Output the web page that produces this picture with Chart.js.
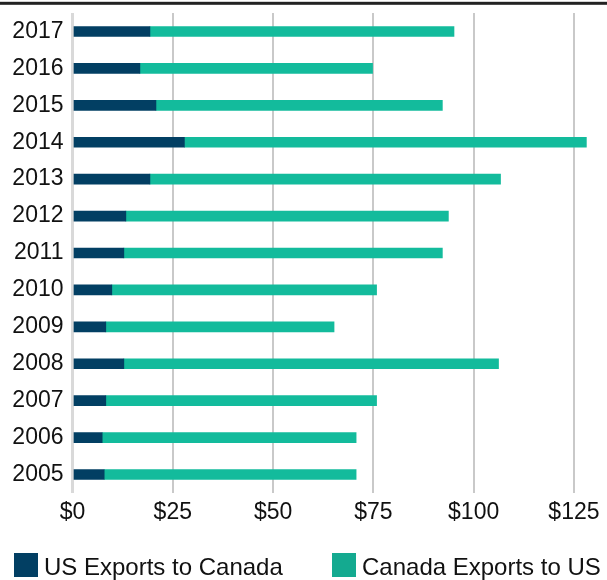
<!DOCTYPE html>
<html>
<head>
<meta charset="utf-8">
<script src="https://cdn.jsdelivr.net/npm/chart.js@4"></script>
<style>
  html, body { margin: 0; padding: 0; background: #ffffff; }
  #wrap { width: 607px; height: 580px; position: relative; }
</style>
</head>
<body>
<div id="wrap"><canvas id="c"></canvas></div>
<script>
// Categories (top to bottom as displayed)
const years = ['2017','2016','2015','2014','2013','2012','2011','2010','2009','2008','2007','2006','2005'];
// Series values (billions of dollars)
const usExportsToCanada = [19.3, 16.8, 20.8, 27.9, 19.3, 13.3, 12.8, 9.8, 8.3, 12.8, 8.3, 7.4, 7.9];
const canadaExportsToUS = [75.8, 58.0, 71.4, 100.2, 87.4, 80.4, 79.4, 66.0, 56.9, 93.4, 67.5, 63.3, 62.8];
// Axis
const xMin = 0, xMax = 130, xStep = 25;
const seriesNames = ['US Exports to Canada', 'Canada Exports to US'];

const FONT = '"Liberation Sans", Arial, Helvetica, sans-serif';
const barColors = ['#023f63', '#13bb9c'];
const legendColors = ['#023f63', '#14aa90'];

const decor = {
  id: 'decor',
  afterDraw(chart) {
    const ctx = chart.ctx;
    ctx.save();
    // top rule
    ctx.fillStyle = '#222222';
    ctx.fillRect(0, 1.8, chart.width, 3);
    // legend
    const xs = [14, 332];
    chart.data.datasets.forEach((ds, i) => {
      ctx.fillStyle = legendColors[i];
      ctx.fillRect(xs[i], 553, 24, 24);
      ctx.fillStyle = '#111111';
      ctx.font = '24px ' + FONT;
      ctx.textBaseline = 'alphabetic';
      ctx.textAlign = 'left';
      ctx.fillText(ds.label, xs[i] + 30, 575);
    });
    ctx.restore();
  }
};

new Chart(document.getElementById('c'), {
  type: 'bar',
  data: {
    labels: years,
    datasets: [
      { label: seriesNames[0], data: usExportsToCanada, backgroundColor: barColors[0], borderWidth: 0, barThickness: 10 },
      { label: seriesNames[1], data: canadaExportsToUS, backgroundColor: barColors[1], borderWidth: 0, barThickness: 10 }
    ]
  },
  options: {
    indexAxis: 'y',
    responsive: true,
    maintainAspectRatio: false,
    animation: false,
    layout: { padding: { top: 13, right: 13, bottom: 50, left: 0 } },
    plugins: {
      legend: { display: false },
      tooltip: { enabled: false }
    },
    scales: {
      x: {
        type: 'linear',
        stacked: true,
        min: xMin,
        max: xMax,
        border: { display: false },
        grid: {
          display: true,
          drawOnChartArea: true,
          drawTicks: false,
          color: ['#d9d9d9', '#c9c9c9', '#c9c9c9', '#c9c9c9', '#c9c9c9', '#c9c9c9'],
          lineWidth: [3, 2, 2, 2, 2, 2]
        },
        ticks: {
          stepSize: xStep,
          includeBounds: false,
          padding: 6,
          color: '#111111',
          font: { family: FONT, size: 23 },
          maxRotation: 0,
          callback: (v) => '$' + v
        },
        afterFit: (s) => { s.height = 37; s.paddingLeft = 0; s.paddingRight = 0; }
      },
      y: {
        type: 'category',
        stacked: true,
        border: { display: false },
        grid: { display: false, drawTicks: false },
        ticks: {
          padding: 9,
          color: '#111111',
          font: { family: FONT, size: 23 }
        },
        afterFit: (s) => { s.width = 72.5; s.paddingTop = 0; s.paddingBottom = 0; }
      }
    }
  },
  plugins: [decor]
});
</script>
</body>
</html>
